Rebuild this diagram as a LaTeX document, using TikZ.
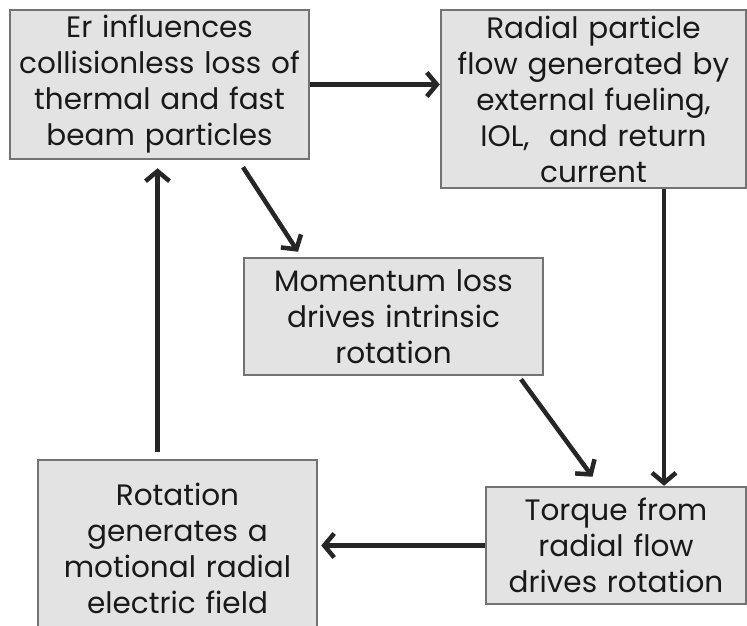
\documentclass[tikz,border=0pt]{standalone}
\usepackage{fontspec}
\setmainfont{Poppins}
\usepackage{tikz}
\usetikzlibrary{arrows.meta}

\begin{document}
\begin{tikzpicture}[x=1pt,y=-1pt]
			\tikzstyle{box} = [draw=black!55, line width=2.5pt, fill=black!11, align=center, inner sep=0pt, text=black!90, font=\fontsize{29.5}{36}\selectfont]
			\tikzstyle{flow} = [draw=black!85, line width=4.5pt, -{Straight Barb[length=10pt,width=24pt,line width=4.5pt]}]

			\useasboundingbox (0,0) rectangle (747,626);
			\clip (0,0) rectangle (747,626);

			\node [box, minimum width=299pt, minimum height=149pt, text width=297pt] (er) at (159.5,84.5) {Er influences\\collisionless loss of\\thermal and fast\\beam particles};

			\node [box, minimum width=305pt, minimum height=178pt, text width=303pt] (radial) at (593.5,99) {Radial particle\\flow generated by\\external fueling,\\IOL,\ \ and return\\current};
			\draw [flow] (er.east) -- (er.east -| radial.west);

			\node [box, minimum width=299pt, minimum height=117pt, text width=297pt] (mom) at (393.5,316.5) {Momentum loss\\drives intrinsic\\rotation};
			\draw [flow] ([xshift=83.5pt, yshift=-7pt]er.south) -- ([xshift=-95.5pt, yshift=5pt]mom.north);

			\node [box, minimum width=260pt, minimum height=117pt, text width=258pt] (torque) at (616,545.5) {Torque from\\radial flow\\drives rotation};
			\draw [flow] ([xshift=70.5pt]radial.south) -- ([xshift=70.5pt]radial.south |- torque.north);
			\draw [flow] ([xshift=127.5pt, yshift=-3pt]mom.south) -- ([xshift=-23.5pt, yshift=9pt]torque.north);

			\node [box, minimum width=279pt, minimum height=176pt, text width=277pt] (rot) at (177.5,548) {Rotation\\generates a\\motional radial\\electric field};
			\draw [flow] (torque.west) -- ([xshift=3pt]torque.west -| rot.east);
			\draw [flow] ([xshift=-20pt, yshift=7pt]rot.north) -- ([xshift=-2pt, yshift=-8pt]er.south);
		\end{tikzpicture}
\end{document}
